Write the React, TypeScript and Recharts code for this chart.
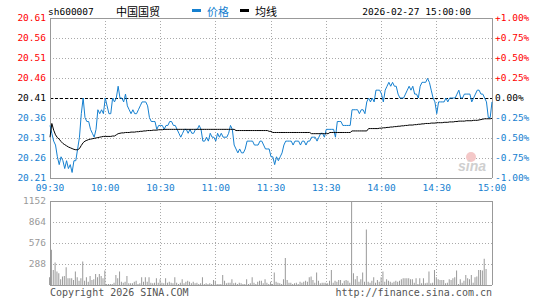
import {
    Bar,
    BarChart,
    CartesianGrid,
    Line,
    LineChart,
    ReferenceLine,
    XAxis,
    YAxis,
} from 'recharts';

const prevClose = 20.41;
const timeTicks = [0, 30, 60, 90, 120, 150, 180, 210, 240];
const timeLabels = ['09:30', '10:00', '10:30', '11:00', '11:30', '13:30', '14:00', '14:30', '15:00'];
const pctSteps = [-1, -0.75, -0.5, -0.25, 0, 0.25, 0.5, 0.75, 1];
const priceLabels = ['20.21', '20.26', '20.31', '20.36', '20.41', '20.46', '20.51', '20.56', '20.61'];
const pctLabels = ['-1.00%', '-0.75%', '-0.50%', '-0.25%', '0.00%', '+0.25%', '+0.50%', '+0.75%', '+1.00%'];
const volTicks = [288, 576, 864, 1152];
const volLabels = ['288', '576', '864', '1152'];

// one value per minute, 09:30..11:30 then 13:01..15:00
const price = [
    20.34, 20.32, 20.30, 20.29, 20.26, 20.24, 20.26, 20.25, 20.23, 20.25,
    20.23, 20.24, 20.22, 20.25, 20.25, 20.28, 20.31, 20.37, 20.41, 20.36,
    20.35, 20.35, 20.33, 20.32, 20.31, 20.33, 20.38, 20.37, 20.38, 20.37,
    20.41, 20.39, 20.37, 20.37, 20.41, 20.40, 20.41, 20.44, 20.41, 20.41,
    20.40, 20.42, 20.39, 20.38, 20.37, 20.38, 20.37, 20.37, 20.38, 20.39,
    20.40, 20.40, 20.40, 20.39, 20.36, 20.35, 20.35, 20.35, 20.33, 20.34,
    20.34, 20.34, 20.33, 20.34, 20.34, 20.35, 20.35, 20.34, 20.34, 20.33,
    20.32, 20.31, 20.32, 20.33, 20.33, 20.32, 20.33, 20.32, 20.32, 20.33,
    20.33, 20.34, 20.33, 20.30, 20.30, 20.31, 20.30, 20.32, 20.31, 20.31,
    20.30, 20.32, 20.31, 20.32, 20.31, 20.31, 20.31, 20.32, 20.34, 20.33,
    20.29, 20.28, 20.27, 20.28, 20.27, 20.27, 20.28, 20.30, 20.30, 20.30,
    20.30, 20.29, 20.29, 20.29, 20.30, 20.30, 20.29, 20.28, 20.28, 20.28,
    20.26,
    20.26, 20.24, 20.26, 20.25, 20.26, 20.27, 20.29, 20.30, 20.30, 20.30,
    20.30, 20.29, 20.30, 20.30, 20.30, 20.29, 20.30, 20.30, 20.29, 20.30,
    20.30, 20.31, 20.31, 20.31, 20.30, 20.31, 20.32, 20.32, 20.31, 20.33,
    20.33, 20.33, 20.33, 20.33, 20.31, 20.35, 20.35, 20.35, 20.34, 20.34,
    20.34, 20.34, 20.34, 20.38, 20.38, 20.38, 20.38, 20.37, 20.38, 20.38,
    20.37, 20.40, 20.41, 20.40, 20.41, 20.40, 20.43, 20.43, 20.43, 20.42,
    20.40, 20.43, 20.44, 20.45, 20.44, 20.45, 20.44, 20.44, 20.42, 20.41,
    20.41, 20.41, 20.42, 20.43, 20.44, 20.43, 20.44, 20.42, 20.42, 20.41,
    20.44, 20.45, 20.45, 20.45, 20.46, 20.45, 20.43, 20.41, 20.40, 20.37,
    20.40, 20.40, 20.40, 20.40, 20.41, 20.40, 20.41, 20.41, 20.41, 20.41,
    20.42, 20.43, 20.41, 20.41, 20.42, 20.42, 20.42, 20.42, 20.40, 20.41,
    20.42, 20.43, 20.43, 20.42, 20.42, 20.41, 20.40, 20.36, 20.36, 20.40,
];

const avgPrice = [
    20.310, 20.345, 20.328, 20.316, 20.309, 20.305, 20.299, 20.294, 20.291, 20.288,
    20.285, 20.283, 20.281, 20.279, 20.278, 20.278, 20.281, 20.289, 20.296, 20.300,
    20.302, 20.304, 20.305, 20.306, 20.307, 20.308, 20.309, 20.310, 20.311, 20.312,
    20.312, 20.312, 20.312, 20.312, 20.313, 20.313, 20.316, 20.319, 20.320, 20.321,
    20.321, 20.322, 20.322, 20.322, 20.323, 20.323, 20.323, 20.324, 20.324, 20.325,
    20.325, 20.326, 20.326, 20.327, 20.327, 20.327, 20.328, 20.328, 20.328, 20.329,
    20.329, 20.329, 20.330, 20.330, 20.330, 20.330, 20.330, 20.330, 20.330, 20.330,
    20.330, 20.330, 20.330, 20.330, 20.330, 20.330, 20.330, 20.330, 20.330, 20.330,
    20.330, 20.330, 20.330, 20.330, 20.330, 20.330, 20.330, 20.330, 20.330, 20.330,
    20.330, 20.330, 20.330, 20.330, 20.330, 20.330, 20.330, 20.330, 20.330, 20.330,
    20.330, 20.327, 20.327, 20.327, 20.327, 20.327, 20.327, 20.327, 20.327, 20.327,
    20.327, 20.327, 20.327, 20.327, 20.327, 20.327, 20.327, 20.327, 20.327, 20.325,
    20.325,
    20.322, 20.322, 20.322, 20.322, 20.322, 20.322, 20.322, 20.322, 20.322, 20.322,
    20.322, 20.322, 20.322, 20.322, 20.322, 20.322, 20.322, 20.322, 20.322, 20.322,
    20.322, 20.319, 20.319, 20.319, 20.319, 20.319, 20.319, 20.319, 20.319, 20.319,
    20.319, 20.322, 20.322, 20.322, 20.322, 20.322, 20.322, 20.322, 20.322, 20.322,
    20.322, 20.322, 20.322, 20.326, 20.326, 20.326, 20.326, 20.326, 20.326, 20.326,
    20.326, 20.326, 20.332, 20.332, 20.332, 20.332, 20.332, 20.332, 20.333, 20.333,
    20.334, 20.334, 20.335, 20.335, 20.336, 20.336, 20.337, 20.337, 20.338, 20.338,
    20.339, 20.339, 20.340, 20.340, 20.341, 20.341, 20.341, 20.342, 20.342, 20.343,
    20.343, 20.344, 20.344, 20.345, 20.345, 20.345, 20.346, 20.346, 20.346, 20.347,
    20.347, 20.347, 20.347, 20.348, 20.348, 20.348, 20.349, 20.349, 20.349, 20.350,
    20.350, 20.351, 20.351, 20.351, 20.351, 20.352, 20.352, 20.352, 20.352, 20.353,
    20.353, 20.353, 20.354, 20.355, 20.356, 20.357, 20.357, 20.357, 20.357, 20.358,
];

const volume = [
    106, 484, 207, 309, 184, 161, 78, 115, 124, 244,
    92, 92, 92, 69, 184, 106, 60, 92, 323, 60,
    106, 46, 124, 69, 78, 152, 106, 152, 124, 92,
    198, 14, 14, 14, 14, 32, 138, 92, 184, 46,
    32, 46, 124, 23, 23, 23, 46, 60, 14, 23,
    106, 46, 106, 46, 106, 32, 23, 32, 92, 32,
    78, 32, 23, 92, 32, 46, 32, 23, 106, 32,
    14, 32, 78, 23, 46, 60, 46, 23, 46, 23,
    32, 14, 23, 106, 14, 23, 14, 23, 14, 69,
    60, 14, 14, 14, 138, 60, 23, 32, 32, 78,
    23, 32, 14, 32, 23, 14, 14, 78, 14, 23,
    106, 32, 14, 46, 60, 60, 23, 78, 32, 14,
    46, 14, 170, 46, 32, 23, 14, 78, 369, 69,
    32, 32, 14, 23, 32, 14, 46, 32, 46, 60,
    46, 106, 115, 69, 32, 170, 60, 23, 32, 32,
    32, 23, 60, 207, 32, 60, 46, 69, 69, 23,
    60, 69, 60, 32, 1152, 161, 78, 124, 46, 78,
    170, 46, 761, 46, 32, 60, 106, 32, 69, 46,
    106, 184, 46, 78, 60, 46, 32, 46, 60, 46,
    60, 78, 92, 92, 92, 92, 78, 78, 32, 92,
    14, 92, 23, 92, 23, 32, 184, 23, 32, 207,
    106, 78, 69, 69, 69, 23, 32, 78, 69, 92,
    106, 198, 14, 78, 32, 60, 138, 92, 78, 138,
    32, 106, 115, 207, 207, 198, 360, 221, 0, 0, 0,
];

const data = price.map((p, i) => ({ i, price: p, avg: avgPrice[i], vol: volume[i] }));

const BLUE = '#1580d0';
const RED = '#ff0000';
const FRAME = '#999999';
const GRID = '#aaaaaa';
const MONO = '"DejaVu Sans Mono", monospace';
const CJK = '"Noto Sans CJK SC", sans-serif';

const priceTicks = pctSteps.map((s) => prevClose * (1 + s / 100));
const pLo = priceTicks[0];
const pHi = priceTicks[priceTicks.length - 1];

const signColor = (s: number) => (s > 0 ? RED : s < 0 ? BLUE : '#000');

const nearest = (arr: number[], v: number) => {
    let best = 0;
    arr.forEach((a, k) => {
        if (Math.abs(a - v) < Math.abs(arr[best] - v)) best = k;
    });
    return best;
};

const PriceTick = (props: any) => {
    const { x, y, payload } = props;
    const k = nearest(priceTicks, payload.value);
    return (
        <text x={x} y={y} dy="0.3em" textAnchor="end" fontSize={9.5} fontFamily={MONO} fill={signColor(pctSteps[k])}>
            {priceLabels[k]}
        </text>
    );
};

const PctTick = (props: any) => {
    const { x, y, payload } = props;
    const k = nearest(pctSteps, payload.value);
    return (
        <text x={x} y={y} dy="0.3em" textAnchor="start" fontSize={9.5} fontFamily={MONO} fill={signColor(pctSteps[k])}>
            {pctLabels[k]}
        </text>
    );
};

const TimeTick = (props: any) => {
    const { x, y, payload } = props;
    const k = timeTicks.indexOf(payload.value);
    return (
        <text x={x} y={y} dy="0.71em" textAnchor="middle" fontSize={9.5} fontFamily={MONO} fill={BLUE}>
            {timeLabels[k]}
        </text>
    );
};

const VolTick = (props: any) => {
    const { x, y, payload } = props;
    const k = volTicks.indexOf(payload.value);
    return (
        <text x={x} y={y} dy="0.3em" textAnchor="end" fontSize={9.5} fontFamily={MONO} fill="#999">
            {volLabels[k]}
        </text>
    );
};

export default function App() {
    return (
        <div style={{ position: 'absolute', left: 0, top: 0, width: 545, height: 300, background: '#fff' }}>
            <div style={{ position: 'absolute', left: 0, top: 0 }}>
                <LineChart width={545} height={195} data={data} margin={{ top: 18, right: 0, bottom: 0, left: 0 }}>
                    <XAxis
                        dataKey="i"
                        type="number"
                        domain={[0, 240]}
                        ticks={timeTicks}
                        interval={0}
                        height={17}
                        axisLine={false}
                        tickLine={false}
                        tickSize={6}
                        tickMargin={0}
                        tick={<TimeTick />}
                    />
                    <YAxis
                        yAxisId="p"
                        orientation="left"
                        width={50}
                        type="number"
                        domain={[pLo, pHi]}
                        ticks={priceTicks}
                        interval={0}
                        allowDataOverflow
                        axisLine={false}
                        tickLine={false}
                        tickSize={4}
                        tickMargin={0}
                        tick={<PriceTick />}
                    />
                    <YAxis
                        yAxisId="pct"
                        orientation="right"
                        width={53}
                        type="number"
                        domain={[-1, 1]}
                        ticks={pctSteps}
                        interval={0}
                        allowDataOverflow
                        axisLine={false}
                        tickLine={false}
                        tickSize={3}
                        tickMargin={0}
                        tick={<PctTick />}
                    />
                    <CartesianGrid yAxisId="p" stroke={GRID} strokeDasharray="1 2" shapeRendering="crispEdges" />
                    <ReferenceLine yAxisId="p" y={prevClose} stroke="#000" strokeDasharray="3 2" shapeRendering="crispEdges" />
                    <ReferenceLine yAxisId="p" x={0} stroke={FRAME} shapeRendering="crispEdges" />
                    <ReferenceLine yAxisId="p" x={240} stroke={FRAME} shapeRendering="crispEdges" />
                    <ReferenceLine yAxisId="p" y={pLo} stroke={FRAME} ifOverflow="visible" shapeRendering="crispEdges" />
                    <ReferenceLine yAxisId="p" y={pHi} stroke={FRAME} ifOverflow="visible" shapeRendering="crispEdges" />
                    <Line
                        yAxisId="p"
                        type="linear"
                        dataKey="price"
                        stroke={BLUE}
                        strokeWidth={1}
                        dot={false}
                        isAnimationActive={false}
                    />
                    <Line
                        yAxisId="p"
                        type="linear"
                        dataKey="avg"
                        stroke="#000"
                        strokeWidth={1}
                        dot={false}
                        isAnimationActive={false}
                    />
                </LineChart>
            </div>
            <div style={{ position: 'absolute', left: 0, top: 190 }}>
                <BarChart width={545} height={110} data={data} margin={{ top: 11, right: 53, bottom: 15, left: 0 }}>
                    <XAxis dataKey="i" type="number" domain={[0, 240]} ticks={timeTicks} hide />
                    <YAxis
                        width={50}
                        type="number"
                        domain={[0, 1152]}
                        ticks={volTicks}
                        interval={0}
                        allowDataOverflow
                        axisLine={false}
                        tickLine={false}
                        tickSize={4}
                        tickMargin={0}
                        tick={<VolTick />}
                    />
                    <CartesianGrid vertical={false} stroke={GRID} strokeDasharray="1 2" shapeRendering="crispEdges" />
                    {timeTicks.slice(1, -1).map((t) => (
                        <ReferenceLine key={t} x={t} stroke={GRID} strokeDasharray="1 2" shapeRendering="crispEdges" />
                    ))}
                    <Bar dataKey="vol" fill="#999" barSize={1} isAnimationActive={false} />
                    <ReferenceLine x={0} stroke={FRAME} shapeRendering="crispEdges" />
                    <ReferenceLine x={240} stroke={FRAME} shapeRendering="crispEdges" />
                    <ReferenceLine y={0} stroke={FRAME} shapeRendering="crispEdges" />
                    <ReferenceLine y={1152} stroke={FRAME} shapeRendering="crispEdges" />
                </BarChart>
            </div>
            <svg
                width={545}
                height={300}
                style={{ position: 'absolute', left: 0, top: 0, pointerEvents: 'none' }}
            >
                <text x={48} y={15} fontSize={9.5} fontFamily={MONO} fill="#000">sh600007</text>
                <text x={116} y={15.5} fontSize={11} fontFamily={CJK} fill="#000">中国国贸</text>
                <rect x={192} y={9} width={9} height={3} fill={BLUE} />
                <text x={207} y={15.5} fontSize={11} fontFamily={CJK} fill={BLUE}>价格</text>
                <rect x={240} y={9} width={9} height={3} fill="#000" />
                <text x={255} y={15.5} fontSize={11} fontFamily={CJK} fill="#000">均线</text>
                <text x={471} y={15} textAnchor="end" fontSize={9.5} fontFamily={MONO} fill="#000">
                    2026-02-27 15:00:00
                </text>
                <circle cx={471} cy={157} r={5} fill="#f4c8c8" />
                <text x={458} y={171} fontSize={14} fontStyle="italic" fontWeight="bold" fontFamily="Liberation Sans, sans-serif" fill="#cfcfcf">
                    sina
                </text>
                <text x={50} y={296} fontSize={10} fontFamily={MONO} fill="#555">Copyright 2026 SINA.COM</text>
                <text x={492} y={296} textAnchor="end" fontSize={10} fontFamily={MONO} fill="#555">
                    http://finance.sina.com.cn
                </text>
            </svg>
        </div>
    );
}
